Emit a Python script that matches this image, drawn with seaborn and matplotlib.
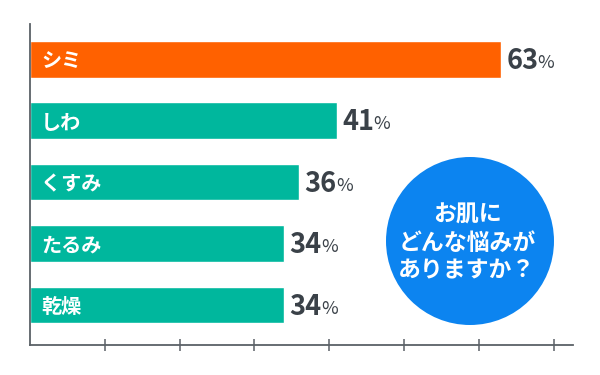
import matplotlib
matplotlib.use('Agg')
import matplotlib.pyplot as plt
from matplotlib.patches import Ellipse
import pandas as pd
import seaborn as sns

# ── Data ───────────────────────────────────────────────
categories = ['シミ', 'しわ', 'くすみ', 'たるみ', '乾燥']
values = [63, 41, 36, 34, 34]
bar_colors = ['#ff6100', '#00b79d', '#00b79d', '#00b79d', '#00b79d']
bubble_lines = ['お肌に', 'どんな悩みが', 'ありますか？']

TEXT_DARK = '#3a4148'
AXIS_COL = '#5b6167'
BUBBLE_COL = '#0c84f0'

sns.set_style('white')
plt.rcParams['font.family'] = ['Noto Sans CJK JP', 'DejaVu Sans']

df = pd.DataFrame({'cat': categories, 'val': values})

fig = plt.figure(figsize=(6, 3.75), dpi=100)
ax = fig.add_axes([0.05, 0.08, 0.905, 0.856])

sns.barplot(data=df, x='val', y='cat', hue='cat', palette=bar_colors,
            orient='h', width=0.6, saturation=1, legend=False, ax=ax)

ax.set_xlim(0, 72.6)
ax.set_ylim(4.65, -0.57)

# ── Axes styling ───────────────────────────────────────
for side in ['top', 'right']:
    ax.spines[side].set_visible(False)
for side in ['left', 'bottom']:
    ax.spines[side].set_color(AXIS_COL)
    ax.spines[side].set_linewidth(1.3)
ax.set_xticks(range(10, 80, 10))
ax.set_xticklabels([])
ax.set_yticks([])
ax.tick_params(axis='x', direction='inout', length=9, width=1.1,
               color=AXIS_COL, bottom=True)
ax.set_xlabel('')
ax.set_ylabel('')

# ── Labels ─────────────────────────────────────────────
for i, (cat, val) in enumerate(zip(categories, values)):
    ax.text(1.5, i + 0.03, cat, color='white', fontsize=14.5, fontweight='bold',
            ha='left', va='center')
    num = ax.text(val + 0.7, i + 0.16, str(val), color=TEXT_DARK,
                  fontsize=19.5, fontweight='bold', ha='left', va='baseline')
    ax.annotate('%', xy=(1, 0), xycoords=num, xytext=(-0.6, 2.3),
                textcoords='offset points', color=TEXT_DARK, fontsize=13,
                ha='left', va='bottom')

# ── Bubble ─────────────────────────────────────────────
cx, cy, r = 470 / 600, 1 - 241 / 375, 84
fig.add_artist(Ellipse((cx, cy), width=2 * r / 600, height=2 * r / 375,
                       transform=fig.transFigure, facecolor=BUBBLE_COL,
                       edgecolor='none', zorder=5))
fig.text(cx - 3 / 600, cy - 2 / 375, '\n'.join(bubble_lines), color='white',
         fontsize=16.5, fontweight='bold', ha='center', va='center',
         linespacing=1.3, zorder=6)

fig.savefig('out.png', dpi=100)
